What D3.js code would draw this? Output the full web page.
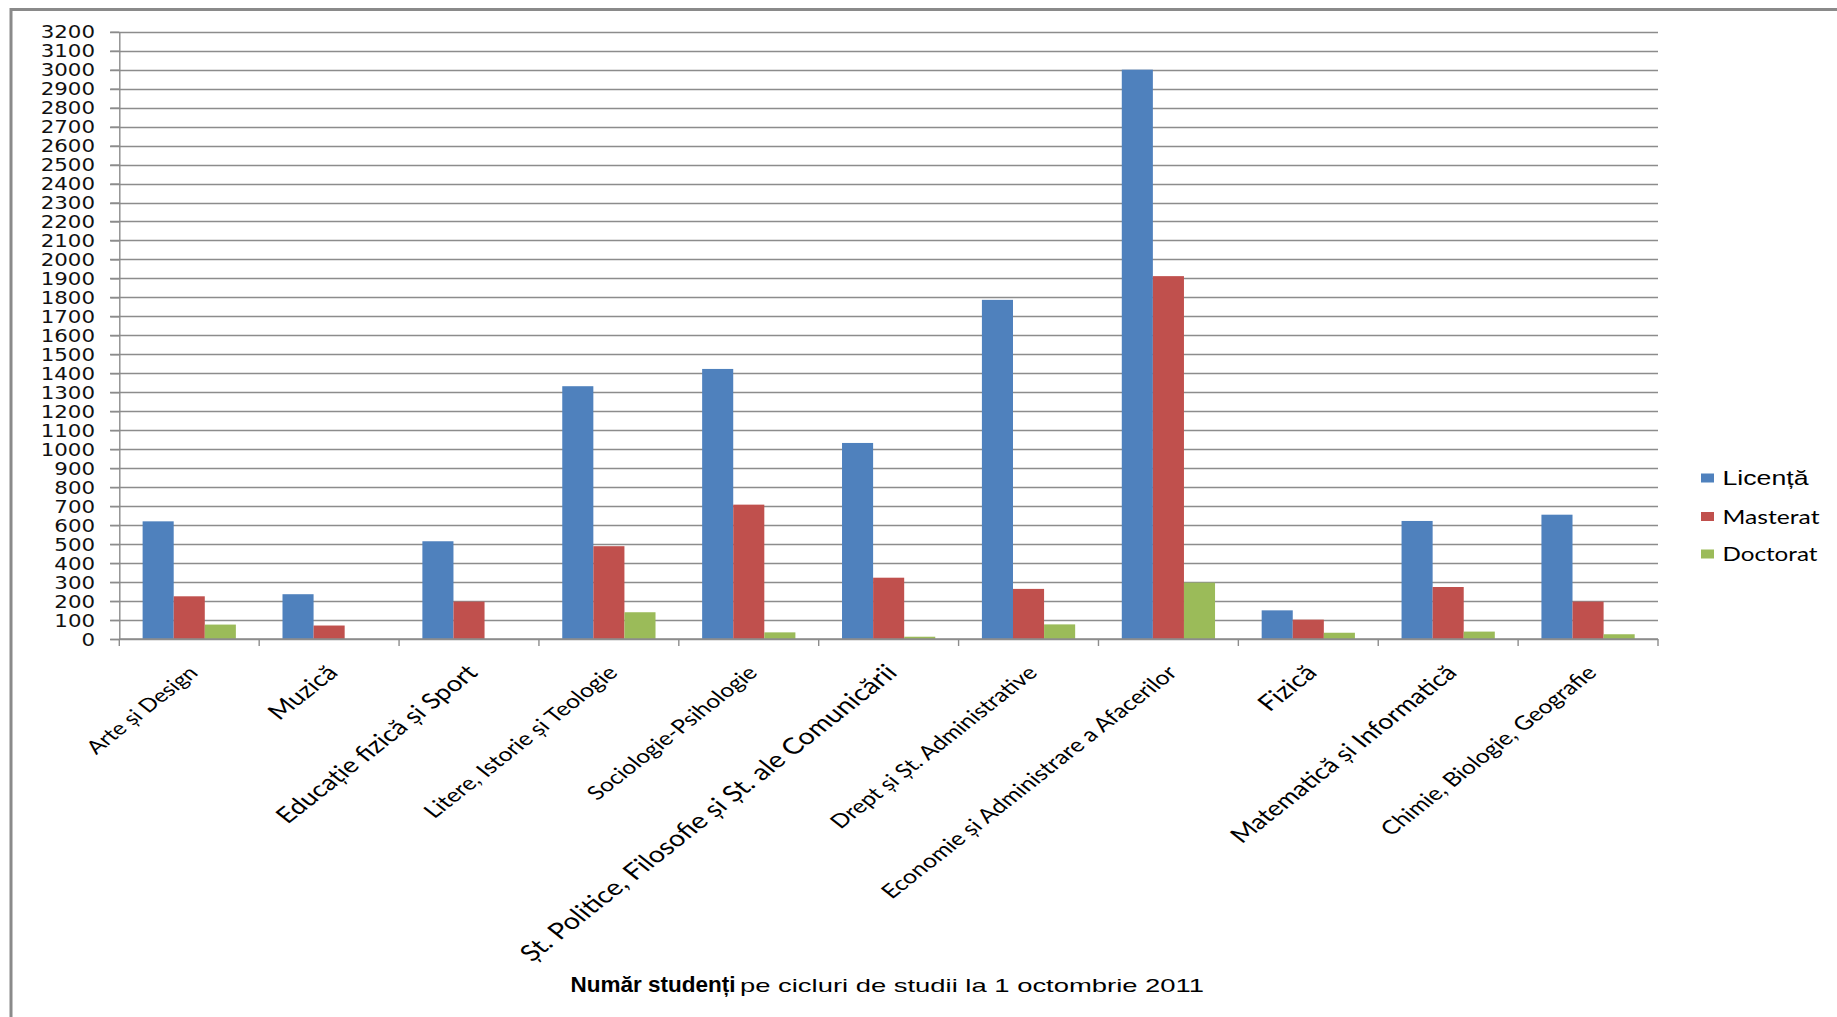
<!DOCTYPE html>
<html>
<head>
<meta charset="utf-8">
<script src="https://cdn.jsdelivr.net/npm/d3@7"></script>
<style>
  html, body { margin: 0; padding: 0; background: #fff; }
  svg { display: block; }
</style>
</head>
<body>
<svg id="chart" width="1837" height="1017"></svg>
<script>
// ---- data ----
const categories = [
  "Arte și Design",
  "Muzică",
  "Educație fizică și Sport",
  "Litere, Istorie și Teologie",
  "Sociologie-Psihologie",
  "Șt. Politice, Filosofie și Șt. ale Comunicării",
  "Drept și Șt. Administrative",
  "Economie și Administrare a Afacerilor",
  "Fizică",
  "Matematică și Informatică",
  "Chimie, Biologie, Geografie"
];
const seriesNames = ["Licență", "Masterat", "Doctorat"];
const licenta  = [620, 236, 515, 1332, 1423, 1033, 1787, 3000, 151, 622, 655];
const masterat = [225, 71, 197, 489, 708, 323, 264, 1912, 102, 274, 197];
const doctorat = [76, 0, 0, 141, 35, 12, 77, 297, 33, 39, 25];
const yTicks = d3.range(0, 3201, 100);
const titleBold = "Număr studenți";
const titleRest = "pe cicluri de studii  la 1 octombrie 2011";

// ---- styles (not data) ----
const colors = ["#4F81BD", "#C0504D", "#9BBB59"];
const labelSize = [18.7, 21.2, 21.7, 19.5, 19.3, 22.6, 19.3, 19.6, 22, 21.2, 19.5];
const stretch = 1.27;

const svg = d3.select("#chart");

// frame
svg.append("path")
  .attr("d", "M11,1017 L11,9.5 L1837,9.5")
  .attr("fill", "none").attr("stroke", "#8a8a8a").attr("stroke-width", 3);

const plotL = 119.3, plotR = 1658, plotT = 31.7, plotB = 639;
const y = d3.scaleLinear().domain([0, 3200]).range([plotB, plotT]);
const x = d3.scaleBand().domain(categories).range([plotL, plotR]).padding(0);
const bw = x.bandwidth();
const xs = d3.scaleBand().domain(seriesNames).range([bw / 6, bw * 5 / 6]).padding(0);

// gridlines
svg.append("g").selectAll("line").data(yTicks).join("line")
  .attr("x1", 110).attr("x2", plotR)
  .attr("y1", d => Math.round(y(d)) + 0.5).attr("y2", d => Math.round(y(d)) + 0.5)
  .attr("stroke", "#8c8c8c").attr("stroke-width", 1.4);

// y axis
const yAxis = svg.append("g").attr("transform", `translate(${plotL},0)`)
  .call(d3.axisLeft(y).tickValues(yTicks).tickFormat(d3.format("d")).tickSize(9).tickSizeOuter(0));
yAxis.select(".domain").attr("stroke", "#8c8c8c").attr("stroke-width", 1.4);
yAxis.selectAll(".tick line").attr("stroke", "#8c8c8c").attr("stroke-width", 1.4);
yAxis.selectAll(".tick text")
  .attr("x", -24.3 / stretch)
  .attr("dy", "0.36em")
  .attr("transform", `scale(${stretch},1)`)
  .style("font-family", "'DejaVu Sans', Verdana, sans-serif")
  .style("font-size", "16.8px")
  .attr("fill", "#111");

// bars
const series = [licenta, masterat, doctorat];
series.forEach((vals, si) => {
  svg.append("g").selectAll("rect").data(vals).join("rect")
    .attr("x", (d, i) => x(categories[i]) + xs(seriesNames[si]))
    .attr("width", xs.bandwidth())
    .attr("y", d => y(d))
    .attr("height", d => plotB - y(d))
    .attr("fill", colors[si]);
});

// x axis baseline + ticks at band boundaries
svg.append("line").attr("x1", plotL).attr("x2", plotR)
  .attr("y1", plotB).attr("y2", plotB).attr("stroke", "#8c8c8c").attr("stroke-width", 1.4);
const bounds = categories.map(c => x(c)).concat([x(categories[categories.length - 1]) + bw]);
svg.append("g").selectAll("line").data(bounds).join("line")
  .attr("x1", d => d).attr("x2", d => d)
  .attr("y1", plotB).attr("y2", plotB + 7)
  .attr("stroke", "#8c8c8c").attr("stroke-width", 1.4);

// category labels (rotated)
svg.append("g").selectAll("text").data(categories).join("text")
  .attr("transform", (d, i) => `translate(${x(d) + bw / 2 + 10},${674}) scale(${stretch},1) rotate(-45)`)
  .attr("text-anchor", "end")
  .style("font-family", "Lato, 'Open Sans', sans-serif")
  .style("font-size", (d, i) => labelSize[i] + "px")
  .attr("fill", "#000")
  .text(d => d);

// legend
const legX = 1701, legY = [478, 516.5, 554];
const legW = [86, 97, 95];
const leg = svg.append("g");
seriesNames.forEach((name, i) => {
  leg.append("rect").attr("x", legX).attr("y", legY[i] - 4.5).attr("width", 13).attr("height", 9)
    .attr("fill", colors[i]);
  leg.append("text").attr("x", legX + 21.5).attr("y", legY[i] + 7)
    .attr("textLength", legW[i]).attr("lengthAdjust", "spacingAndGlyphs")
    .style("font-family", i === 0 ? "'Liberation Sans', Arial, sans-serif" : "Lato, sans-serif")
    .style("font-size", i === 0 ? "21px" : "19px")
    .attr("fill", "#000")
    .text(name);
});

// title
svg.append("text").attr("x", 570.6).attr("y", 992)
  .attr("textLength", 165).attr("lengthAdjust", "spacingAndGlyphs")
  .style("font-family", "'Liberation Sans Narrow', 'Liberation Sans', Arial, sans-serif")
  .style("font-weight", "bold").style("font-size", "22px")
  .text(titleBold);
svg.append("text").attr("x", 740).attr("y", 992)
  .attr("textLength", 464).attr("lengthAdjust", "spacingAndGlyphs")
  .style("font-family", "'Liberation Sans Narrow', 'Liberation Sans', Arial, sans-serif")
  .style("font-size", "19px")
  .text(titleRest);
</script>
</body>
</html>
